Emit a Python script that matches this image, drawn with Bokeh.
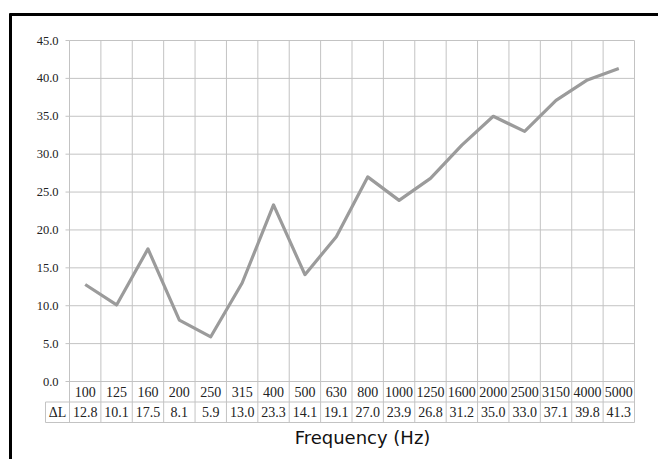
from bokeh.plotting import figure
from bokeh.models import Range1d, ColumnDataSource
from bokeh.core.properties import value
from bokeh.embed import file_html
from bokeh.resources import INLINE

# ---- data ----
categories = ["100", "125", "160", "200", "250", "315", "400", "500", "630", "800",
              "1000", "1250", "1600", "2000", "2500", "3150", "4000", "5000"]
delta_l = [12.8, 10.1, 17.5, 8.1, 5.9, 13.0, 23.3, 14.1, 19.1, 27.0,
           23.9, 26.8, 31.2, 35.0, 33.0, 37.1, 39.8, 41.3]
y_ticks = [0, 5, 10, 15, 20, 25, 30, 35, 40, 45]
y_tick_labels = ["%.1f" % v for v in y_ticks]
row_header = "\u0394L"
x_title = "Frequency (Hz)"

# ---- layout (pixels) ----
W, H = 658, 459
xL, xR = 69, 634
yT, yB = 40, 381
n = len(categories)
ymax = 45
sx = (xR - xL) / n
sy = (yB - yT) / ymax

p = figure(width=W, height=H, output_backend="svg", toolbar_location=None,
           x_range=Range1d(-xL / sx, n + (W - xR) / sx),
           y_range=Range1d(-(H - yB) / sy, ymax + yT / sy),
           min_border=0, min_border_left=0, min_border_right=0,
           min_border_top=0, min_border_bottom=0,
           x_axis_location=None, y_axis_location=None)
p.grid.visible = False
p.outline_line_color = None
p.background_fill_color = "white"
p.border_fill_color = "white"

def dx(px):
    return px / sx

def dy(px):
    return px / sy

grid_color = "#c3c3c3"
row1_h = 20.5
row2_h = 41

# horizontal gridlines + small ticks
p.segment(x0=[0] * len(y_ticks), x1=[n] * len(y_ticks), y0=y_ticks, y1=y_ticks,
          line_color=grid_color, line_width=1)
p.segment(x0=[-dx(4)] * len(y_ticks), x1=[0] * len(y_ticks), y0=y_ticks, y1=y_ticks,
          line_color=grid_color, line_width=1)

# vertical gridlines through chart and table
xs = list(range(n + 1))
p.segment(x0=xs, x1=xs, y0=[ymax] * len(xs), y1=[-dy(row2_h)] * len(xs),
          line_color=grid_color, line_width=1)

# table lines
p.segment(x0=[-dx(24), -dx(24)], x1=[n, n], y0=[-dy(row1_h), -dy(row2_h)],
          y1=[-dy(row1_h), -dy(row2_h)], line_color=grid_color, line_width=1)
p.segment(x0=[-dx(24)], x1=[-dx(24)], y0=[-dy(row1_h)], y1=[-dy(row2_h)],
          line_color=grid_color, line_width=1)

# data line
src = ColumnDataSource(dict(x=[i + 0.5 for i in range(n)], y=delta_l,
                            cat=categories, val=["%.1f" % v for v in delta_l]))
p.line("x", "y", source=src, line_color="#9b9b9b", line_width=3.2, line_join="round")

# y tick labels
p.text(x=[0] * len(y_ticks), y=y_ticks, text=y_tick_labels, x_offset=-11,
       text_align="right", text_baseline="middle",
       text_font=value("Liberation Serif"), text_font_size="12.5px", text_color="#222222")

# table texts
p.text(x="x", y=-dy(10.5), text="cat", source=src, text_align="center",
       text_baseline="middle", text_font=value("Liberation Serif"),
       text_font_size="14px", text_color="#222222")
p.text(x="x", y=-dy(30.7), text="val", source=src, text_align="center",
       text_baseline="middle", text_font=value("Liberation Serif"),
       text_font_size="14px", text_color="#222222")
p.text(x=[-dx(12)], y=[-dy(30.7)], text=[row_header], text_align="center",
       text_baseline="middle", text_font=value("Liberation Serif"),
       text_font_size="14px", text_color="#222222")

# axis title
p.text(x=[dx(362 - xL)], y=[-dy(437 - yB)], text=[x_title], text_align="center",
       text_baseline="middle", text_font=value("DejaVu Sans"),
       text_font_size="18px", text_color="#111111")

# black frame lines (top and left)
p.segment(x0=[-dx(xL - 9)], x1=[n + dx(W - xR)], y0=[dy(yT - 14) + ymax],
          y1=[dy(yT - 14) + ymax], line_color="black", line_width=3)
p.segment(x0=[-dx(xL - 10)], x1=[-dx(xL - 10)], y0=[dy(yT - 13) + ymax],
          y1=[-dy(H - yB)], line_color="black", line_width=3)

open("out.html", "w").write(file_html(p, INLINE))
